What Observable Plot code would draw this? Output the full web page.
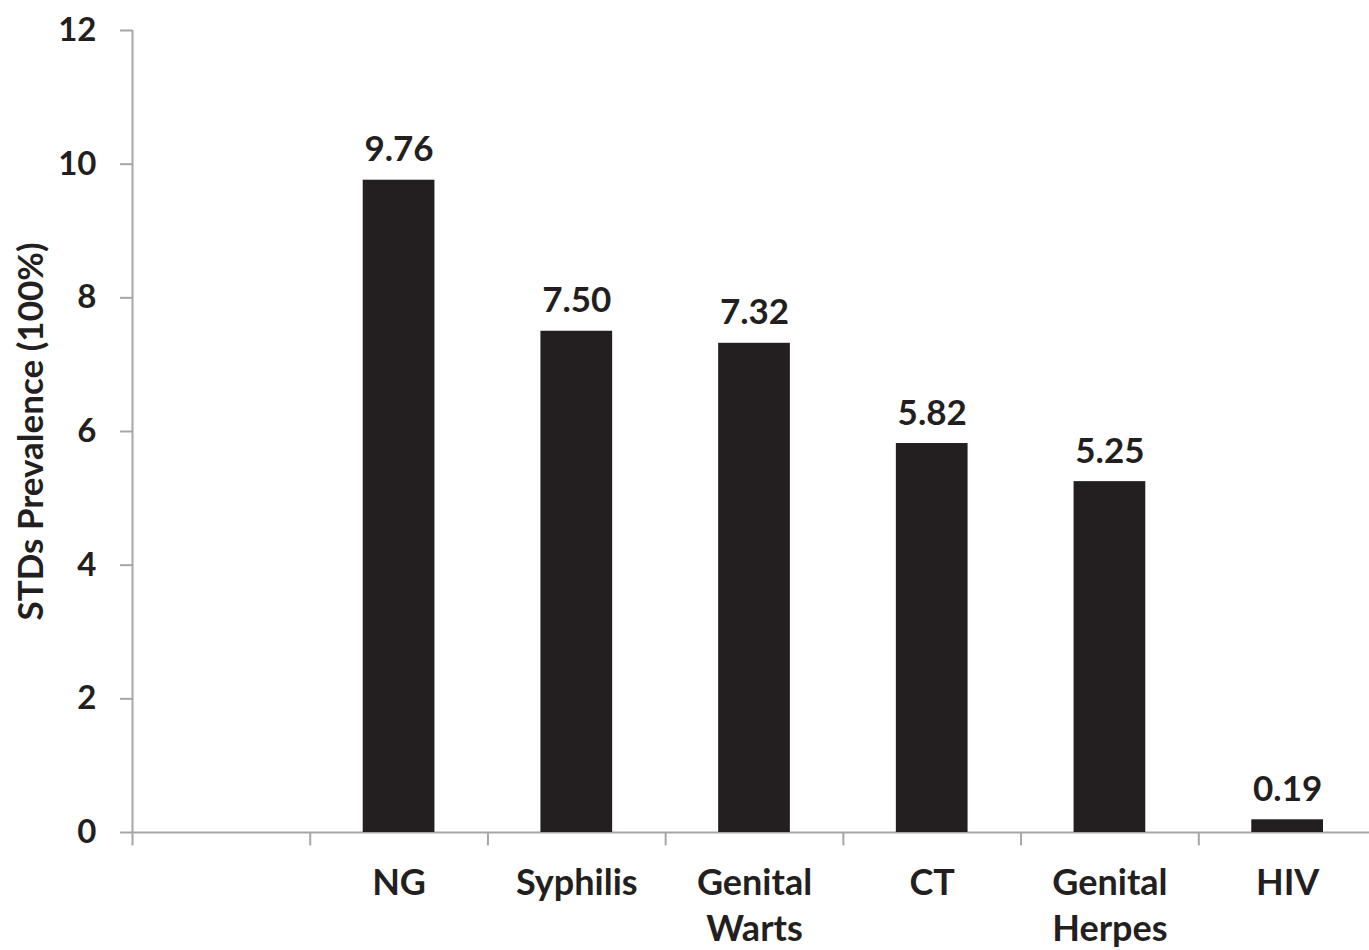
<!DOCTYPE html>
<html>
<head>
<meta charset="utf-8">
<script src="https://cdn.jsdelivr.net/npm/d3@7"></script>
<script src="https://cdn.jsdelivr.net/npm/@observablehq/plot@0.6"></script>
<style>
  html, body { margin: 0; padding: 0; background: #fff; }
</style>
</head>
<body>
<div id="chart"></div>
<script>
const categories = [" ", "NG", "Syphilis", "Genital\nWarts", "CT", "Genital\nHerpes", "HIV"];
const values = [null, 9.76, 7.50, 7.32, 5.82, 5.25, 0.19];
const valueLabels = ["", "9.76", "7.50", "7.32", "5.82", "5.25", "0.19"];
const yTicks = [0, 2, 4, 6, 8, 10, 12];
const yLabel = "STDs Prevalence (100%)";

const data = categories.map((c, i) => ({cat: c, value: values[i], label: valueLabels[i]}));
const bars = data.filter(d => d.value != null);

const x0 = 132, x1 = 1376;
const step = (x1 - x0) / categories.length;
const ink = "#231f20";
const gray = "#a6a6a6";

const chart = Plot.plot({
  width: 1369,
  height: 950,
  marginLeft: 132,
  marginTop: 30,
  marginBottom: 118,
  marginRight: 0,
  style: {fontFamily: "Lato, sans-serif", fontWeight: "bold", color: ink, background: "#fff"},
  x: {domain: categories, range: [x0, x1], padding: 0, round: false},
  y: {domain: [0, 12], range: [832, 30]},
  marks: [
    Plot.ruleX([categories[0]], {y1: 0, y2: 12, dx: -step / 2, stroke: gray, strokeWidth: 2}),
    Plot.ruleX(categories, {y1: 0, y2: -0.2, dx: -step / 2, stroke: gray, strokeWidth: 2}),
    Plot.ruleY([0], {stroke: gray, strokeWidth: 2}),
    Plot.barY(bars, {x: "cat", y: "value", fill: ink, insetLeft: 53, insetRight: 53}),
    Plot.text(bars, {x: "cat", y: "value", text: "label", dy: -19, lineAnchor: "bottom", fontSize: 35, fontWeight: "bold", fill: ink}),
    Plot.axisY({ticks: yTicks, tickSize: 12, tickPadding: 24, fontSize: 33, stroke: gray, strokeWidth: 2, label: null}),
    Plot.text([yLabel], {frameAnchor: "left", textAnchor: "middle", rotate: -90, dx: -101, fontSize: 35, fontWeight: "bold", fill: ink}),
    Plot.axisX({tickSize: 0, tickPadding: 30, fontSize: 36, lineHeight: 1.28, label: null, tickFormat: d => d})
  ]
});
document.getElementById("chart").appendChild(chart);
</script>
</body>
</html>
